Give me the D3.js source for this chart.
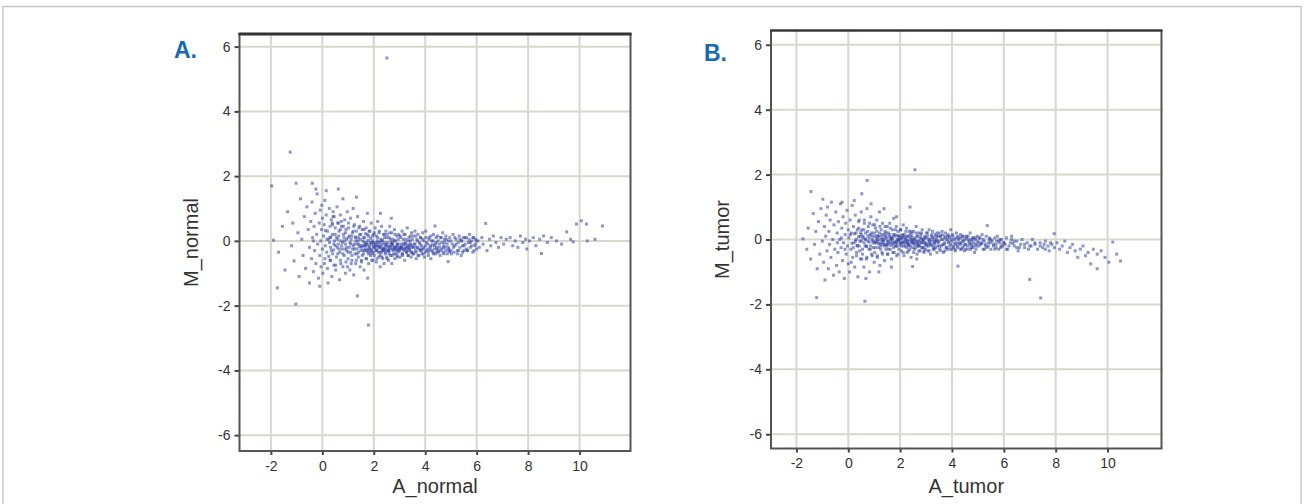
<!DOCTYPE html>
<html>
<head>
<meta charset="utf-8">
<script src="https://cdn.jsdelivr.net/npm/d3@7"></script>
<style>
  body { margin: 0; background: #fff; }
  svg text { font-family: "Liberation Sans", Arial, sans-serif; }
</style>
</head>
<body>
<div id="grafico"></div>
<script>
// ---- dados ----
var xTicks = [-2, 0, 2, 4, 6, 8, 10];
var yTicks = [-6, -4, -2, 0, 2, 4, 6];
var painelRotulos = ['A.', 'B.'];
var eixoX = ['A_normal', 'A_tumor'];
var eixoY = ['M_normal', 'M_tumor'];

var pontosNormal = [
  [-1.97,1.70],[-1.75,-1.45],[-1.25,2.74],[-1.03,-1.95],[-1.02,1.78],[-0.39,1.78],[1.79,-2.60],[1.36,-1.70],[2.51,5.65],
  [-1.9,0.02],[-1.7,-0.35],[-1.55,0.45],[-1.45,-0.9],[-1.35,0.9],[-1.2,-0.15],[-1.15,0.55],[-1.1,-0.62],[-0.95,0.25],[-0.9,-1.1],[-0.85,1.3],[-0.8,0.05],[-0.75,-0.45],[-0.7,0.75],[-0.65,-0.85],[-0.6,1.05],[-0.55,0.35],[-0.5,-0.2],[-0.5,-1.3],
  [-0.45,0.6],[-0.42,-0.55],[-0.4,1.2],[-0.38,0.1],[-0.35,-0.95],[-0.32,0.45],[-0.3,-0.3],[-0.28,0.85],[-0.25,-0.7],[-0.22,0.2],[-0.2,1.45],[-0.18,-0.1],[-0.15,-1.15],[-0.12,0.55],[-0.1,-0.45],[-0.08,0.95],[-0.06,0.0],[-0.05,-0.8],[-0.03,0.35],[-0.02,1.1],[0.0,-0.25],[0.0,0.7],[-0.25,1.6],[-0.1,-1.4],[-0.35,0.0],
  [0.02,-1.0],[0.05,0.15],[0.07,0.5],[0.1,-0.55],[0.1,1.25],[0.12,-0.15],[0.15,0.8],[0.17,-0.35],[0.2,0.3],[0.2,-0.85],[0.22,-1.3],[0.25,0.05],[0.27,1.0],[0.3,-0.6],[0.3,0.45],[0.32,-0.2],[0.35,0.65],[0.37,-1.1],[0.4,0.2],[0.4,-0.4],[0.42,0.9],[0.45,-0.75],[0.47,0.0],[0.5,0.4],[0.5,-0.15],[0.15,1.55],[0.28,-0.05],[0.33,0.12],[0.44,-0.28],[0.08,-0.7],[0.18,0.05],[0.38,0.55],[0.25,-0.48],[0.12,0.32],[0.46,0.75],
  [0.52,-0.9],[0.55,0.1],[0.57,1.05],[0.6,-0.4],[0.6,0.55],[0.62,-0.1],[0.65,0.3],[0.67,-1.2],[0.7,0.8],[0.7,-0.6],[0.72,0.0],[0.75,0.45],[0.77,-0.25],[0.8,1.3],[0.8,-0.8],[0.82,0.2],[0.85,-0.45],[0.87,0.65],[0.9,-0.1],[0.9,-1.0],[0.92,0.35],[0.95,-0.3],[0.97,0.9],[1.0,-0.55],[1.0,0.1],[0.58,-0.2],[0.64,0.15],[0.68,-0.35],[0.74,0.6],[0.78,-0.05],[0.84,0.1],[0.88,-0.25],[0.94,0.05],[0.98,-0.8],[0.62,1.6],
  [1.02,0.4],[1.05,-0.2],[1.07,-0.9],[1.1,0.7],[1.1,-0.35],[1.12,0.05],[1.15,-0.6],[1.17,0.25],[1.2,1.0],[1.2,-0.15],[1.22,-1.05],[1.25,0.5],[1.27,-0.4],[1.3,0.0],[1.3,-0.7],[1.32,0.3],[1.35,-0.25],[1.37,0.75],[1.4,-0.5],[1.4,0.1],[1.42,-0.1],[1.45,0.45],[1.47,-0.8],[1.5,-0.3],[1.5,0.2],[1.08,-0.05],[1.14,0.15],[1.18,-0.25],[1.24,-0.1],[1.28,0.12],[1.34,-0.4],[1.38,0.0],[1.44,-0.18],[1.48,0.05],[1.33,1.35],
  [1.52,-0.6],[1.55,0.35],[1.57,-0.15],[1.6,-0.4],[1.6,0.6],[1.62,-0.9],[1.65,0.1],[1.67,-0.25],[1.7,0.4],[1.7,-0.55],[1.72,-0.05],[1.75,0.85],[1.77,-0.35],[1.8,0.15],[1.8,-0.7],[1.82,-0.2],[1.85,0.3],[1.87,-0.45],[1.9,-0.1],[1.9,0.55],[1.92,-0.3],[1.95,0.0],[1.97,-0.6],[2.0,0.2],[2.0,-0.2],[1.58,0.0],[1.64,-0.15],[1.68,0.22],[1.74,-0.12],[1.78,0.02],[1.84,-0.28],[1.88,0.08],[1.94,-0.4],[1.98,-0.05],[1.76,-1.15],
  [2.02,-0.45],[2.05,0.4],[2.07,-0.15],[2.1,-0.65],[2.1,0.15],[2.12,-0.3],[2.15,0.6],[2.17,-0.05],[2.2,-0.5],[2.2,0.25],[2.22,-0.2],[2.25,-0.8],[2.27,0.05],[2.3,-0.35],[2.3,0.45],[2.32,-0.1],[2.35,-0.55],[2.37,0.2],[2.4,-0.25],[2.4,-0.7],[2.42,0.1],[2.45,-0.4],[2.47,0.3],[2.5,-0.15],[2.5,-0.5],[2.08,-0.25],[2.14,0.0],[2.18,-0.15],[2.24,-0.35],[2.28,-0.22],[2.34,0.02],[2.38,-0.3],[2.44,-0.12],[2.48,-0.28],[2.26,0.85],
  [2.52,0.2],[2.55,-0.3],[2.57,-0.6],[2.6,0.1],[2.6,-0.15],[2.62,0.45],[2.65,-0.45],[2.67,-0.05],[2.7,0.25],[2.7,-0.7],[2.72,-0.25],[2.75,0.05],[2.77,-0.4],[2.8,0.35],[2.8,-0.2],[2.82,-0.55],[2.85,0.0],[2.87,-0.3],[2.9,0.15],[2.9,-0.45],[2.92,-0.1],[2.95,-0.35],[2.97,0.2],[3.0,-0.2],[2.58,-0.32],[2.64,-0.2],[2.74,-0.12],[2.84,-0.25],[2.94,-0.28],[2.68,0.7],
  [3.02,-0.5],[3.05,0.1],[3.07,-0.25],[3.1,0.3],[3.12,-0.4],[3.15,-0.1],[3.17,0.2],[3.2,-0.6],[3.22,-0.2],[3.25,0.05],[3.27,-0.35],[3.3,0.4],[3.32,-0.15],[3.35,-0.45],[3.37,0.1],[3.4,-0.3],[3.42,0.0],[3.45,-0.5],[3.47,0.25],[3.5,-0.2],[3.08,-0.18],[3.18,-0.3],[3.28,-0.22],[3.38,-0.12],[3.48,-0.35],
  [3.52,0.15],[3.55,-0.4],[3.57,-0.1],[3.6,0.3],[3.62,-0.3],[3.65,-0.55],[3.67,0.05],[3.7,-0.2],[3.72,0.2],[3.75,-0.45],[3.77,-0.05],[3.8,-0.3],[3.82,0.1],[3.85,-0.15],[3.87,-0.4],[3.9,0.25],[3.92,-0.25],[3.95,0.0],[3.97,-0.5],[4.0,-0.15],[3.64,-0.2],[3.84,-0.25],
  [4.02,0.3],[4.05,-0.3],[4.1,-0.1],[4.12,-0.45],[4.15,0.1],[4.2,-0.2],[4.22,-0.55],[4.25,0.0],[4.3,-0.35],[4.32,0.2],[4.35,-0.15],[4.38,0.46],[4.4,-0.4],[4.42,-0.05],[4.45,-0.25],[4.48,0.15],[4.5,-0.3],[4.18,-0.28],[4.28,-0.12],[4.44,-0.2],
  [4.55,-0.1],[4.58,-0.45],[4.6,0.1],[4.65,-0.25],[4.68,0.25],[4.7,-0.35],[4.75,-0.05],[4.78,-0.2],[4.8,0.15],[4.85,-0.4],[4.89,-0.64],[4.9,0.0],[4.92,-0.25],[4.95,0.1],[5.0,-0.3],[4.72,-0.15],
  [5.05,-0.1],[5.08,0.2],[5.12,-0.35],[5.15,-0.15],[5.2,0.05],[5.25,-0.3],[5.28,-0.05],[5.32,0.15],[5.35,-0.2],[5.4,-0.45],[5.42,0.0],[5.45,-0.15],[5.48,0.1],[5.5,-0.3],
  [5.55,-0.1],[5.6,0.1],[5.62,-0.3],[5.68,-0.05],[5.72,0.2],[5.75,-0.2],[5.8,0.0],[5.85,-0.35],[5.88,0.1],[5.92,-0.15],[5.95,0.05],[6.0,-0.25],
  [6.05,0.0],[6.1,-0.2],[6.2,0.1],[6.25,-0.1],[6.35,0.54],[6.4,-0.3],[6.5,0.05],[6.55,-0.15],[6.65,0.15],[6.75,-0.05],[6.85,-0.2],[6.95,0.1],
  [7.05,-0.1],[7.15,0.05],[7.3,0.1],[7.4,-0.15],[7.5,0.0],[7.6,-0.2],[7.7,0.15],[7.8,-0.05],[7.9,0.05],[7.95,-0.25],
  [8.05,0.0],[8.2,0.1],[8.3,-0.15],[8.45,0.05],[8.52,-0.39],[8.6,0.15],[8.75,-0.05],[8.9,0.1],
  [9.1,0.0],[9.3,-0.1],[9.5,0.28],[9.65,0.05],[9.75,-0.03],[9.88,0.52],[10.07,0.62],[10.27,0.52],[10.6,0.05],[10.89,0.46],[10.3,0.0]
];

// núcleo denso do gráfico A
var nucleoNormal = [
  [0.3,0.1],[0.35,-0.3],[0.4,0.5],[0.45,-0.1],[0.5,0.2],[0.55,-0.5],[0.6,0.05],[0.65,-0.25],[0.7,0.35],[0.75,-0.15],[0.8,-0.4],[0.85,0.0],[0.9,0.25],[0.95,-0.2],[1.0,-0.35],[1.05,0.15],[1.1,-0.1],[1.15,-0.45],[1.2,0.3],[1.25,-0.25],[1.3,0.1],[1.35,-0.1],[1.4,-0.35],[1.45,0.2],[1.5,-0.15],[1.55,-0.45],[1.6,0.1],[1.65,-0.3],[1.7,-0.1],[1.75,0.2],[1.8,-0.4],[1.85,-0.05],[1.9,-0.25],[1.95,0.15],[2.0,-0.35],[2.05,-0.1],[2.1,-0.3],[2.15,0.1],[2.2,-0.2],[2.25,-0.45],[2.3,0.0],[2.35,-0.25],[2.4,-0.05],[2.45,-0.35],[2.5,0.1],[2.55,-0.2],[2.6,-0.4],[2.65,0.05],[2.7,-0.15],[2.75,-0.3],[2.8,0.0],[2.85,-0.4],[2.9,-0.2],[2.95,0.05],[3.0,-0.3],[3.05,-0.1],[3.1,-0.4],[3.15,0.05],[3.2,-0.25],[3.25,-0.1],[3.3,-0.3],[3.35,0.0],[3.4,-0.2],[3.45,-0.35],[3.5,0.05],[3.55,-0.2],[3.6,-0.1],[3.65,-0.35],[3.7,0.0],[3.75,-0.25],[3.8,-0.1],[3.85,-0.3],[3.9,0.05],[3.95,-0.2],[4.0,-0.35],[4.05,-0.05],[4.1,-0.25],[4.15,0.05],[4.2,-0.15],[4.25,-0.3],[4.3,0.0],[4.35,-0.25],[4.4,-0.1],[4.45,-0.35],[4.5,0.0],[4.55,-0.2],[4.6,-0.3],[4.65,-0.05],[4.7,-0.2],[4.75,0.05],[4.8,-0.3],[4.85,-0.1],[4.9,-0.2],[4.95,-0.35],[5.0,0.0],[5.1,-0.2],[5.2,-0.1],[5.3,-0.3],[5.4,0.0],[5.5,-0.15],[5.6,-0.25],[5.7,0.05],[5.8,-0.15],[5.9,-0.3],[6.0,0.0],
  [0.32,-0.6],[0.42,0.75],[0.52,-0.75],[0.62,0.55],[0.72,-0.7],[0.82,0.45],[0.92,-0.65],[1.02,0.55],[1.12,-0.7],[1.22,0.45],[1.32,-0.6],[1.42,0.4],[1.52,-0.65],[1.62,0.35],[1.72,-0.55],[1.82,0.3],[1.92,-0.6],[2.02,0.25],[2.12,-0.55],[2.22,0.3],[2.32,-0.5],[2.42,0.2],[2.52,-0.55],[2.62,0.25],[2.72,-0.45],[2.82,0.2],[2.92,-0.5],[3.02,0.15],[3.12,-0.45],[3.22,0.2],[3.32,-0.45],[3.42,0.15],[3.52,-0.4],[3.62,0.15],[3.72,-0.45],[3.82,0.1],[3.92,-0.4],[4.02,0.1],[4.12,-0.35],[4.22,0.15],[4.32,-0.4],[4.42,0.1],[4.52,-0.35],[4.62,0.1],[4.72,-0.4],[4.82,0.05],[4.92,-0.3],[5.02,-0.4],[5.15,0.1],[5.25,-0.4],[5.35,0.05],[5.45,-0.35],[5.55,0.1],[5.65,-0.3],[5.75,-0.05],[5.85,0.1],[5.95,-0.1],
  [1.53,-0.2],[1.63,-0.05],[1.73,-0.3],[1.83,-0.15],[1.93,-0.05],[2.03,-0.2],[2.13,-0.15],[2.23,-0.05],[2.33,-0.3],[2.43,-0.2],[2.53,-0.05],[2.63,-0.25],[2.73,-0.05],[2.83,-0.2],[2.93,-0.1],[3.03,-0.2],[3.13,-0.25],[3.23,-0.05],[3.33,-0.2],[3.43,-0.1],[1.58,-0.3],[1.68,-0.15],[1.78,-0.25],[1.88,-0.35],[1.98,-0.15],[2.08,-0.05],[2.18,-0.35],[2.28,-0.15],[2.38,-0.25],[2.48,-0.1],[2.58,-0.3],[2.68,-0.1],[2.78,-0.25],[2.88,-0.15],[2.98,-0.25],[3.08,-0.2],[3.18,-0.1],[3.28,-0.35],[3.38,-0.25],[3.48,-0.15]
];

var pontosTumor = [
  [-1.44,1.48],[2.57,2.15],[0.73,1.82],[0.52,1.41],[-1.22,-1.79],[0.64,-1.9],[2.38,1.0],[2.48,-0.83],[7.0,-1.23],[7.42,-1.8],[4.23,-0.82],[10.2,-0.08],[10.5,-0.66],[9.6,-0.9],[5.36,0.43],[7.94,0.18],
  [-1.75,0.02],[-1.6,-0.3],[-1.55,0.35],[-1.45,-0.6],[-1.35,0.8],[-1.3,-0.15],[-1.25,0.25],[-1.2,-0.9],[-1.15,0.55],[-1.1,-0.45],[-1.05,0.95],[-1.0,-0.05],
  [-0.98,1.24],[-0.95,-0.7],[-0.92,0.4],[-0.9,-1.25],[-0.87,0.1],[-0.85,0.75],[-0.82,-0.35],[-0.8,1.0],[-0.77,-0.9],[-0.75,0.25],[-0.72,-0.15],[-0.7,0.6],[-0.67,-0.55],[-0.65,1.15],[-0.6,0.0],[-0.57,-1.1],[-0.55,0.45],[-0.52,-0.3],
  [-0.48,0.85],[-0.45,-0.8],[-0.43,0.2],[-0.4,-0.4],[-0.38,0.55],[-0.35,-1.0],[-0.33,0.0],[-0.3,1.1],[-0.28,-0.25],[-0.25,0.35],[-0.24,1.15],[-0.22,-0.65],[-0.2,0.7],[-0.18,-0.1],[-0.15,-1.2],[-0.12,0.15],[-0.1,0.5],[-0.08,-0.45],[-0.05,0.9],[-0.03,-0.2],[0.0,0.3],[0.0,-0.75],[-0.42,-0.1],[-0.27,0.05],[-0.13,-0.3],
  [0.02,0.05],[0.05,-1.0],[0.07,0.6],[0.1,-0.3],[0.12,0.2],[0.15,1.05],[0.17,-0.55],[0.2,0.4],[0.22,-0.1],[0.25,-0.85],[0.27,0.75],[0.3,0.0],[0.32,-0.4],[0.35,0.3],[0.37,-1.15],[0.4,0.55],[0.42,-0.2],[0.45,0.1],[0.47,-0.6],[0.5,0.85],[0.5,-0.05],[0.08,0.15],[0.14,-0.12],[0.19,-0.25],[0.24,0.18],[0.28,-0.05],[0.34,-0.18],[0.39,0.08],[0.44,-0.35],[0.48,0.22],[0.23,1.2],[0.11,-0.7],
  [0.52,0.3],[0.55,-0.45],[0.57,0.1],[0.6,-0.85],[0.62,0.6],[0.65,-0.2],[0.67,0.2],[0.7,-0.6],[0.72,0.95],[0.75,-0.05],[0.77,0.4],[0.8,-0.3],[0.82,-1.0],[0.85,0.15],[0.87,0.7],[0.9,-0.45],[0.92,0.0],[0.95,0.45],[0.97,-0.25],[1.0,-0.7],[1.0,0.2],[0.56,0.05],[0.61,-0.1],[0.66,0.02],[0.71,-0.22],[0.76,0.12],[0.81,-0.08],[0.86,-0.2],[0.91,0.1],[0.96,-0.1],[0.68,-1.2],[0.88,1.1],
  [1.02,-0.4],[1.05,0.35],[1.07,-0.1],[1.1,0.6],[1.12,-0.55],[1.15,0.1],[1.17,-0.25],[1.2,0.85],[1.22,-0.8],[1.25,0.0],[1.27,0.3],[1.3,-0.4],[1.32,0.5],[1.35,-0.15],[1.37,0.15],[1.4,-0.65],[1.42,0.25],[1.45,-0.3],[1.47,0.05],[1.5,0.4],[1.06,-0.05],[1.11,0.12],[1.16,-0.12],[1.21,0.2],[1.26,-0.2],[1.31,0.06],[1.36,-0.05],[1.41,-0.15],[1.46,0.12],[1.49,-0.2],[1.18,-1.0],[1.38,0.95],
  [1.52,-0.45],[1.55,0.2],[1.57,-0.1],[1.6,0.5],[1.62,-0.3],[1.65,0.05],[1.67,-0.6],[1.7,0.3],[1.72,-0.15],[1.75,0.65],[1.77,-0.4],[1.8,0.1],[1.82,-0.2],[1.85,0.4],[1.87,-0.5],[1.9,0.0],[1.92,0.25],[1.95,-0.3],[1.97,0.1],[2.0,-0.15],[1.54,-0.05],[1.59,0.08],[1.64,-0.18],[1.69,-0.02],[1.74,0.15],[1.79,-0.08],[1.84,-0.1],[1.89,0.12],[1.94,-0.05],[1.99,0.02],[1.66,-0.85],[1.86,0.7],
  [2.02,0.3],[2.05,-0.35],[2.07,0.05],[2.1,-0.1],[2.12,0.45],[2.15,-0.5],[2.17,0.15],[2.2,-0.2],[2.22,0.0],[2.25,0.35],[2.27,-0.4],[2.3,0.1],[2.32,-0.15],[2.35,0.25],[2.37,-0.3],[2.4,0.05],[2.42,-0.55],[2.45,0.2],[2.47,-0.1],[2.5,0.0],[2.04,-0.1],[2.09,0.12],[2.14,-0.05],[2.19,0.08],[2.24,-0.12],[2.29,-0.02],[2.34,-0.2],[2.39,0.15],[2.44,-0.08],[2.49,-0.25],
  [2.52,0.25],[2.55,-0.3],[2.57,0.0],[2.6,-0.15],[2.62,0.4],[2.65,-0.45],[2.67,0.1],[2.7,-0.2],[2.72,0.2],[2.75,-0.05],[2.77,-0.35],[2.8,0.15],[2.82,-0.1],[2.85,0.3],[2.87,-0.25],[2.9,0.0],[2.92,-0.4],[2.95,0.1],[2.97,-0.15],[3.0,0.05],[2.58,-0.08],[2.68,-0.12],[2.78,0.05],[2.88,-0.05],[2.98,-0.3],[2.64,-0.6],
  [3.02,-0.2],[3.05,0.2],[3.07,-0.35],[3.1,0.0],[3.12,0.3],[3.15,-0.15],[3.17,-0.45],[3.2,0.1],[3.22,-0.05],[3.25,0.25],[3.27,-0.3],[3.3,0.05],[3.32,-0.15],[3.35,0.15],[3.37,-0.25],[3.4,0.0],[3.42,-0.4],[3.45,0.1],[3.47,-0.1],[3.5,0.2],[3.13,-0.1],[3.33,-0.05],
  [3.52,-0.2],[3.55,0.1],[3.57,-0.35],[3.6,0.0],[3.62,0.25],[3.65,-0.15],[3.67,-0.4],[3.7,0.1],[3.72,-0.1],[3.75,0.2],[3.77,-0.25],[3.8,0.0],[3.82,-0.3],[3.85,0.15],[3.87,-0.1],[3.9,0.05],[3.92,-0.2],[3.95,0.3],[3.97,-0.05],[4.0,-0.3],
  [4.03,0.1],[4.06,-0.2],[4.1,0.0],[4.13,-0.35],[4.17,0.2],[4.2,-0.1],[4.23,-0.25],[4.27,0.05],[4.3,-0.15],[4.33,0.15],[4.37,-0.3],[4.4,-0.05],[4.43,0.1],[4.46,-0.2],[4.5,0.0],[4.15,-0.15],[4.35,-0.12],[4.48,-0.35],
  [4.53,-0.15],[4.56,0.1],[4.6,-0.3],[4.63,0.0],[4.67,-0.1],[4.7,0.2],[4.73,-0.25],[4.77,-0.05],[4.8,0.05],[4.83,-0.2],[4.87,-0.4],[4.9,0.0],[4.93,-0.15],[4.97,0.1],[5.0,-0.1],[4.75,-0.15],
  [5.04,-0.2],[5.08,0.05],[5.12,-0.1],[5.16,0.15],[5.2,-0.3],[5.24,-0.05],[5.28,-0.15],[5.32,0.1],[5.4,-0.2],[5.44,0.0],[5.48,-0.1],[5.5,-0.3],[5.15,-0.12],[5.35,-0.25],
  [5.55,-0.05],[5.6,-0.2],[5.65,0.05],[5.7,-0.15],[5.75,0.1],[5.8,-0.3],[5.85,-0.1],[5.9,0.0],[5.95,-0.2],[6.0,-0.1],[5.72,-0.05],[5.88,-0.25],
  [6.05,-0.15],[6.1,0.05],[6.15,-0.3],[6.25,-0.1],[6.3,0.1],[6.4,-0.2],[6.5,-0.05],[6.55,-0.35],[6.65,-0.15],[6.7,0.0],[6.8,-0.25],[6.9,-0.1],[6.95,-0.3],[6.35,-0.12],
  [7.05,-0.2],[7.1,0.0],[7.2,-0.15],[7.3,-0.3],[7.4,-0.1],[7.5,-0.25],[7.6,-0.05],[7.7,-0.2],[7.75,-0.35],[7.85,-0.15],[7.95,-0.25],[7.55,-0.15],
  [8.05,-0.1],[8.15,-0.3],[8.25,-0.2],[8.35,-0.05],[8.45,-0.4],[8.55,-0.25],[8.65,-0.15],[8.75,-0.35],[8.85,-0.55],[8.95,-0.3],
  [9.05,-0.2],[9.15,-0.5],[9.25,-0.4],[9.35,-0.75],[9.45,-0.3],[9.6,-0.45],[9.75,-0.35],[9.9,-0.55],[10.05,-0.7],[10.35,-0.45]
];

// núcleo denso do gráfico B
var nucleoTumor = [
  [0.3,0.2],[0.35,-0.2],[0.4,0.35],[0.45,-0.05],[0.5,0.15],[0.55,-0.3],[0.6,0.3],[0.65,0.0],[0.7,-0.2],[0.75,0.25],[0.8,0.05],[0.85,-0.3],[0.9,0.2],[0.95,-0.05],[1.0,0.1],[1.05,-0.25],[1.1,0.25],[1.15,-0.05],[1.2,0.1],[1.25,-0.3],[1.3,0.15],[1.35,0.0],[1.4,-0.2],[1.45,0.2],[1.5,-0.05],[1.55,-0.3],[1.6,0.15],[1.65,-0.1],[1.7,0.05],[1.75,-0.25],[1.8,0.15],[1.85,-0.05],[1.9,-0.2],[1.95,0.1],[2.0,0.0],[2.05,-0.2],[2.1,0.15],[2.15,-0.1],[2.2,0.05],[2.25,-0.25],[2.3,0.1],[2.35,-0.05],[2.4,-0.2],[2.45,0.1],[2.5,-0.1],[2.55,0.05],[2.6,-0.25],[2.65,0.1],[2.7,-0.05],[2.75,-0.2],[2.8,0.05],[2.85,-0.1],[2.9,-0.25],[2.95,0.05],[3.0,-0.1],[3.05,0.1],[3.1,-0.2],[3.15,0.0],[3.2,-0.15],[3.25,0.05],[3.3,-0.25],[3.35,-0.05],[3.4,0.1],[3.45,-0.2],[3.5,-0.05],[3.55,0.1],[3.6,-0.2],[3.65,0.0],[3.7,-0.15],[3.75,0.05],[3.8,-0.25],[3.85,-0.05],[3.9,0.1],[3.95,-0.15],[4.0,0.0],[4.05,-0.25],[4.1,-0.1],[4.15,0.05],[4.2,-0.2],[4.25,0.0],[4.3,-0.1],[4.35,0.05],[4.4,-0.25],[4.45,-0.05],[4.5,-0.15],[4.55,0.05],[4.6,-0.2],[4.65,-0.05],[4.7,-0.15],[4.75,0.0],[4.8,-0.25],[4.85,-0.1],[4.9,0.05],[4.95,-0.2],[5.0,-0.05],[5.1,-0.15],[5.2,0.0],[5.3,-0.2],[5.4,-0.1],[5.5,0.0],[5.6,-0.15],[5.7,-0.25],[5.8,-0.05],[5.9,-0.2],[6.0,-0.1],[6.2,-0.2],[6.4,-0.05],[6.6,-0.25],[6.8,-0.15],[7.0,-0.2],[7.2,-0.1],[7.4,-0.2],[7.6,-0.3],[7.8,-0.1],
  [0.32,-0.5],[0.42,0.6],[0.52,-0.6],[0.62,0.5],[0.72,-0.55],[0.82,0.5],[0.92,-0.5],[1.02,0.45],[1.12,-0.5],[1.22,0.4],[1.32,-0.45],[1.42,0.4],[1.52,-0.45],[1.62,0.35],[1.72,-0.4],[1.82,0.3],[1.92,-0.45],[2.02,0.3],[2.12,-0.4],[2.22,0.25],[2.32,-0.35],[2.42,0.25],[2.52,-0.4],[2.62,0.2],[2.72,-0.35],[2.82,0.2],[2.92,-0.35],[3.02,0.2],[3.12,-0.35],[3.22,0.15],[3.32,-0.3],[3.42,0.2],[3.52,-0.3],[3.62,0.15],[3.72,-0.35],[3.82,0.1],[3.92,-0.3],[4.02,0.15],[4.12,-0.3],[4.22,0.1],[4.32,-0.3],[4.42,0.1],[4.52,-0.3],[4.62,0.1],[4.72,-0.3],[4.82,0.05],[4.92,-0.3],[5.05,0.05],[5.25,-0.3],[5.45,0.05],[5.65,-0.3],[5.85,0.0],[6.1,-0.3],[6.3,0.0],[6.5,-0.25],
  [1.03,-0.1],[1.13,0.0],[1.23,-0.15],[1.33,-0.05],[1.43,0.05],[1.53,-0.15],[1.63,0.0],[1.73,-0.1],[1.83,-0.2],[1.93,0.0],[2.03,-0.1],[2.13,-0.2],[2.23,-0.05],[2.33,-0.15],[2.43,0.0],[2.53,-0.15],[2.63,-0.05],[2.73,-0.15],[2.83,-0.25],[2.93,-0.1],[3.03,-0.15],[3.13,-0.05],[3.23,-0.2],[3.33,-0.1],[3.43,-0.05],[1.08,0.05],[1.28,-0.1],[1.48,-0.15],[1.68,0.05],[1.88,-0.1],[2.08,0.05],[2.28,-0.1],[2.48,-0.05],[2.68,-0.2],[2.88,0.0]
];

// ---- layout ----
var largura = 1304, altura = 504;
var corPonto = '#3142a3';
var corGrade = '#d9d7cc';
var corTexto = '#333';
var azul = '#1769b8';

var paineis = [
  { x0: 239.5, x1: 630.5, y0: 34, y1: 451, dx: [-3.22, 11.98], dy: [-6.49, 6.39],
    pontos: pontosNormal.concat(nucleoNormal), rotulo: [174, 58], topo: 3 },
  { x0: 771, x1: 1161.5, y0: 30.5, y1: 448.5, dx: [-2.98, 12.08], dy: [-6.44, 6.44],
    pontos: pontosTumor.concat(nucleoTumor), rotulo: [704, 61], topo: 2 }
];

var svg = d3.select('#grafico').append('svg')
  .attr('width', largura)
  .attr('height', altura);

// moldura externa
svg.append('rect')
  .attr('x', 3).attr('y', 6.5)
  .attr('width', 1298).attr('height', 520)
  .attr('fill', 'none')
  .attr('stroke', '#c8c8c8')
  .attr('stroke-width', 1.5);

paineis.forEach(function(p, i) {
  var x = d3.scaleLinear().domain(p.dx).range([p.x0, p.x1]);
  var y = d3.scaleLinear().domain(p.dy).range([p.y1, p.y0]);
  var g = svg.append('g');

  // grade
  g.append('g').selectAll('line').data(xTicks).enter().append('line')
    .attr('x1', function(d) { return x(d); }).attr('x2', function(d) { return x(d); })
    .attr('y1', p.y0).attr('y2', p.y1)
    .attr('stroke', corGrade).attr('stroke-width', 2);
  g.append('g').selectAll('line').data(yTicks).enter().append('line')
    .attr('y1', function(d) { return y(d); }).attr('y2', function(d) { return y(d); })
    .attr('x1', p.x0).attr('x2', p.x1)
    .attr('stroke', corGrade).attr('stroke-width', 2);

  // pontos
  g.append('g').selectAll('rect').data(p.pontos).enter().append('rect')
    .attr('x', function(d) { return x(d[0]) - 1.5; })
    .attr('y', function(d) { return y(d[1]) - 1.5; })
    .attr('width', 3).attr('height', 3)
    .attr('fill', corPonto)
    .attr('fill-opacity', 0.55);

  // eixos (rótulos com hífen, como no original)
  var fmt = function(d) { return String(d); };
  var ax = g.append('g').attr('transform', 'translate(0,' + p.y1 + ')')
    .call(d3.axisBottom(x).tickValues(xTicks).tickFormat(fmt).tickSize(4).tickPadding(6));
  var ay = g.append('g').attr('transform', 'translate(' + p.x0 + ',0)')
    .call(d3.axisLeft(y).tickValues(yTicks).tickFormat(fmt).tickSize(5).tickPadding(4));
  [ax, ay].forEach(function(a) {
    a.select('.domain').remove();
    a.selectAll('.tick line').attr('stroke', '#444').attr('stroke-width', 2);
    a.selectAll('.tick text').attr('fill', corTexto).style('font-size', '14px');
  });

  // moldura do painel
  g.append('rect')
    .attr('x', p.x0).attr('y', p.y0)
    .attr('width', p.x1 - p.x0).attr('height', p.y1 - p.y0)
    .attr('fill', 'none').attr('stroke', '#555').attr('stroke-width', 2);
  g.append('line')
    .attr('x1', p.x0 - 1).attr('x2', p.x1 + 1)
    .attr('y1', p.y0).attr('y2', p.y0)
    .attr('stroke', '#333').attr('stroke-width', p.topo);

  // títulos dos eixos
  g.append('text')
    .attr('x', (p.x0 + p.x1) / 2).attr('y', 493)
    .attr('text-anchor', 'middle')
    .attr('fill', corTexto).style('font-size', '20px')
    .text(eixoX[i]);
  g.append('text')
    .attr('transform', 'translate(' + (p.x0 - 42) + ',' + ((p.y0 + p.y1) / 2) + ') rotate(-90)')
    .attr('text-anchor', 'middle')
    .attr('fill', corTexto).style('font-size', '20px')
    .text(eixoY[i]);

  // rótulo do painel
  g.append('text')
    .attr('x', p.rotulo[0]).attr('y', p.rotulo[1])
    .attr('fill', azul).style('font-size', '23px').style('font-weight', 'bold')
    .text(painelRotulos[i]);
});
</script>
</body>
</html>
